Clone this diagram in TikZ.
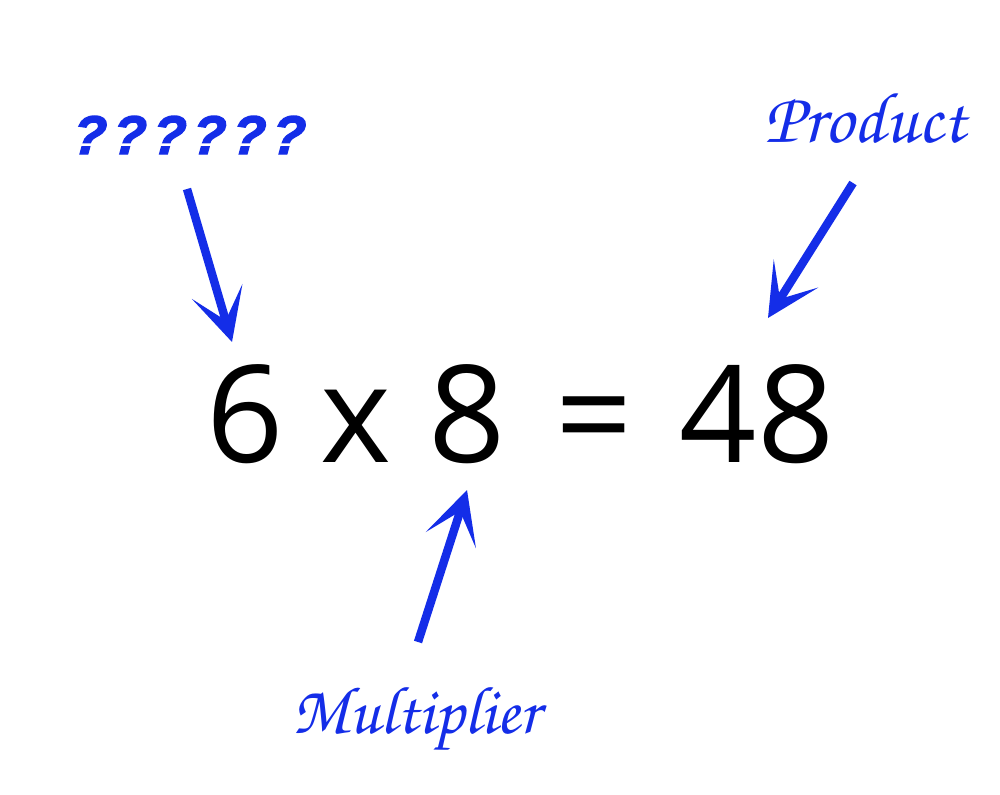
\documentclass[tikz,border=0pt]{standalone}
\usepackage[T1]{fontenc}
\usepackage{fontspec}
\setmainfont{Open Sans}
\newfontfamily\qmFont[LetterSpace=12, FakeBold=2.5, FakeSlant=0.08]{Liberation Sans}
\newcommand\scriptFont{\fontencoding{T1}\fontfamily{pzc}\fontseries{mb}\fontshape{it}\selectfont}
\usetikzlibrary{arrows.meta}
\definecolor{labelBlue}{RGB}{20,45,232}

\begin{document}
\begin{tikzpicture}[x=0.02cm, y=-0.02cm,
	eqPart/.style={inner sep=0, anchor=base, font=\fontsize{77}{80}\selectfont},
	scriptLabel/.style={inner sep=0, anchor=base, text=labelBlue},
	blueArrow/.style={draw=labelBlue, line width=4.8pt,
		-{Stealth[length=1.05cm, width=1.05cm, inset=0.6cm]}}]
	% Canvas
	\useasboundingbox[fill=white] (0,0) rectangle (1000,794);
	
	% The equation
	\node[eqPart] (sixNum) at (245,462) {6};
	\node[eqPart] (timesSign) at (356,462) {x};
	\node[eqPart] (eightNum) at (467,462) {8};
	\node[eqPart] (eqSign) at (594,462) {=};
	\node[eqPart] (resultNum) at (757,462) {48};
	
	% Labels
	\node[inner sep=0, anchor=base, text=labelBlue, font=\fontsize{31}{34}\qmFont\bfseries\itshape] (qMarks) at (188,154) {??????};
	\node[scriptLabel, font=\fontsize{41}{44}\scriptFont] (prodLabel) at (865,142) {Product};
	\node[scriptLabel, font=\fontsize{38.5}{44}\scriptFont] (multLabel) at (416,733) {Multiplier};
	
	% Arrow ends
	\coordinate (qTail) at (187,189);
	\coordinate (qTip) at (232,342);
	\coordinate (prodTail) at (853,183);
	\coordinate (prodTip) at (768,318);
	\coordinate (multTail) at (418,642);
	\coordinate (multTip) at (467,490);
	
	% Arrows pointing to the equation
	\draw[blueArrow] (qTail) -- (qTip);
	\draw[blueArrow] (prodTail) -- (prodTip);
	\draw[blueArrow] (multTail) -- (multTip);
\end{tikzpicture}
\end{document}
